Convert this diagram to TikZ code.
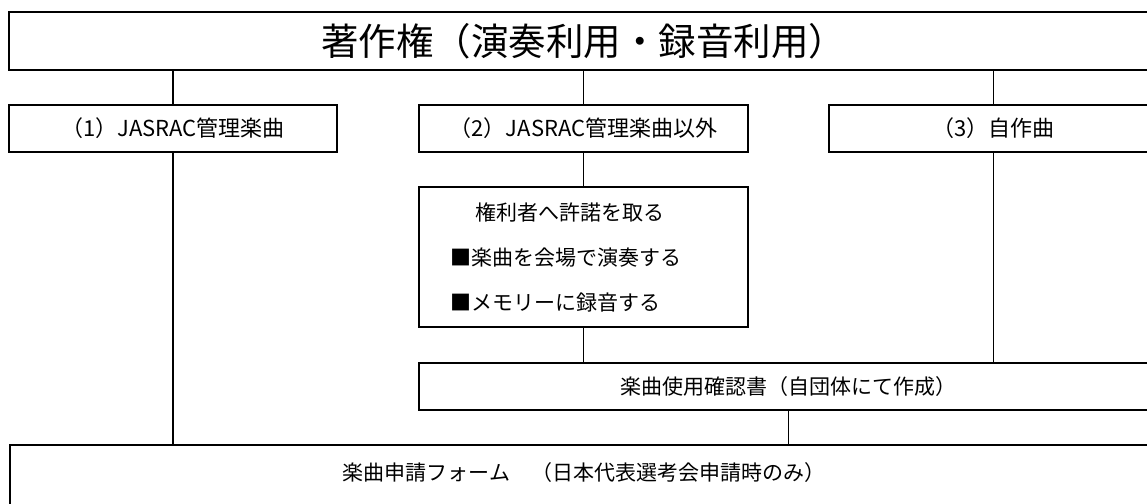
\documentclass[tikz,border=0pt]{standalone}
\usepackage{fontspec}
\setmainfont{Noto Sans CJK JP}

\tikzset{
  box/.style={draw, line width=1.6pt, inner sep=0pt, font=\fontsize{21}{25}\selectfont},
  head/.style={box, minimum width=329pt, minimum height=47pt, font=\fontsize{22}{26}\selectfont},
  link/.style={line width=1.2pt}
}

\begin{document}
\begin{tikzpicture}[x=1pt, y=-1pt]
  \useasboundingbox (0,0) rectangle (1147,503);
  \clip (0,0) rectangle (1147,503);
  \fill[white] (0,0) rectangle (1147,503);

  \node (top) at (583.5, 41) [box, minimum width=1149pt, minimum height=58pt, font=\fontsize{37.5}{40}\selectfont]{著作権（演奏利用・録音利用）};

  \node (l1) at (173, 128.5) [head, minimum width=328pt]{（1）JASRAC管理楽曲};
  \node (l2) at (583.5, 128.5) [head]{（2）JASRAC管理楽曲以外};
  \node (l3) at (993.5, 128.5) [head]{（3）自作曲};

  \node (permit) at (583.5, 257) [box, minimum width=329pt, minimum height=140pt, text width=267pt, align=left, font=\fontsize{21}{45}\selectfont]{\hspace*{25pt}権利者へ許諾を取る\\■楽曲を会場で演奏する\\■メモリーに録音する};

  \node (conf) at (788.5, 386.5) [box, minimum width=739pt, minimum height=47pt]{楽曲使用確認書（自団体にて作成）};
  \node (form) at (584, 480) [box, minimum width=1148pt, minimum height=70pt, text height=12pt, text depth=12pt]{楽曲申請フォーム　（日本代表選考会申請時のみ）};

  \draw[link] (top.south -| l1.north) -- (l1.north);
  \draw[link] (top.south -| l2.north) -- (l2.north);
  \draw[link] (top.south -| l3.north) -- (l3.north);
  \draw[link] (l2.south) -- (permit.north);
  \draw[link] (l1.south) -- (l1.south |- form.north);
  \draw[link] (permit.south) -- (permit.south |- conf.north);
  \draw[link] (l3.south) -- (l3.south |- conf.north);
  \draw[link] (conf.south) -- (conf.south |- form.north);
\end{tikzpicture}
\end{document}
